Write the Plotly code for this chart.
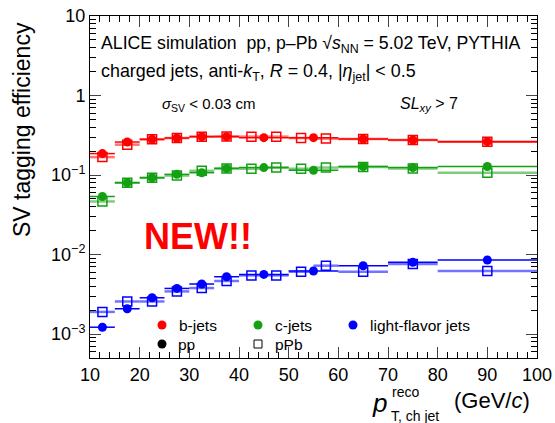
import plotly.graph_objects as go
import math

# ---------------- data ----------------
pp_x = [12.5, 17.5, 22.5, 27.5, 32.5, 37.5, 45, 55, 65, 75, 90]
pp_xerr = [2.5, 2.5, 2.5, 2.5, 2.5, 2.5, 5, 5, 5, 5, 10]
pPb_x = [12.5, 17.5, 22.5, 27.5, 32.5, 37.5, 42.5, 47.5, 52.5, 57.5, 65, 75, 90]
pPb_xerr = [2.5, 2.5, 2.5, 2.5, 2.5, 2.5, 2.5, 2.5, 2.5, 2.5, 5, 5, 10]

b_pp = [0.186, 0.26, 0.281, 0.292, 0.304, 0.304, 0.295, 0.295, 0.284, 0.276, 0.263]
b_pPb = [0.168, 0.241, 0.281, 0.292, 0.304, 0.306, 0.304, 0.304, 0.292, 0.287, 0.284, 0.276, 0.263]
c_pp = [0.0537, 0.080, 0.0925, 0.102, 0.107, 0.121, 0.124, 0.115, 0.128, 0.124, 0.128]
c_pPb = [0.0465, 0.080, 0.0925, 0.0985, 0.113, 0.121, 0.120, 0.124, 0.120, 0.124, 0.126, 0.121, 0.107]
l_pp = [0.00122, 0.00208, 0.00286, 0.00375, 0.00426, 0.00526, 0.00563, 0.00621, 0.00724, 0.00798, 0.00855]
l_pPb = [0.0019, 0.00257, 0.00257, 0.00344, 0.00379, 0.00465, 0.00547, 0.00547, 0.00608, 0.00724, 0.00608, 0.0076, 0.00621]

y_tickvals = [0.001, 0.01, 0.1, 1, 10]
y_ticktext = ["10<sup>\u22123</sup>", "10<sup>\u22122</sup>", "10<sup>\u22121</sup>", "1", "10"]
y_minor = [m * 10.0 ** e for e in range(-4, 1) for m in range(2, 10)]
x_tickvals = [10, 20, 30, 40, 50, 60, 70, 80, 90, 100]

colors = {"b": "#ff0000", "c": "#13a013", "l": "#0000ff"}
light = {"b": "rgba(255,0,0,0.55)", "c": "rgba(19,160,19,0.55)", "l": "rgba(0,0,255,0.55)"}

FONT = "Liberation Sans, Arial, Helvetica, sans-serif"

fig = go.Figure()

series = [("b", b_pp, b_pPb), ("c", c_pp, c_pPb), ("l", l_pp, l_pPb)]
for key, ypp, ypb in series:
    fig.add_trace(go.Scatter(
        x=pPb_x, y=ypb, mode="markers",
        marker=dict(symbol="square-open", size=9, color=colors[key], line=dict(width=1.5, color=colors[key])),
        error_x=dict(type="data", array=pPb_xerr, color=light[key], thickness=2.5, width=0),
        showlegend=False, hoverinfo="x+y"))
for key, ypp, ypb in series:
    fig.add_trace(go.Scatter(
        x=pp_x, y=ypp, mode="markers",
        marker=dict(symbol="circle", size=9, color=colors[key]),
        error_x=dict(type="data", array=pp_xerr, color=colors[key], thickness=1.5, width=0),
        showlegend=False, hoverinfo="x+y"))

# plot area in pixels: x 90..537, y 16..358
L, R, T, B = 90, 537, 16, 358
W, H = R - L, B - T

def px(x):
    return (x - L) / W

def py(y):
    return (B - y) / H

annotations = []

def txt(x, y, text, size, xanchor="left", color="black", **kw):
    annotations.append(dict(xref="paper", yref="paper", x=px(x), y=py(y), text=text,
                            showarrow=False, xanchor=xanchor, yanchor="middle",
                            font=dict(family=FONT, size=size, color=color), **kw))

txt(99, 45, "ALICE simulation  pp, p\u2013Pb \u221a<i>s</i><sub>NN</sub> = 5.02 TeV, PYTHIA", 17.7)
txt(99, 73, "charged jets, anti-<i>k</i><sub>T</sub>, <i>R</i> = 0.4, |<i>\u03b7</i><sub>jet</sub>| < 0.5", 17.9)
txt(160, 104, "<i>\u03c3</i><sub>SV</sub> < 0.03 cm", 15)
txt(398, 104, "<i>SL<sub>xy</sub></i> > 7", 16)
txt(142, 236, "<b>NEW!!</b>", 36, color="#ff0000")

# legend
txt(177, 325, "b-jets", 15.5)
txt(273, 325, "c-jets", 15.5)
txt(368, 325, "light-flavor jets", 15.5)
txt(176, 344, "pp", 15.5)
txt(273, 344, "pPb", 15.5)

shapes = []
def circ(x, y, color, r=4.5):
    shapes.append(dict(type="circle", xref="paper", yref="paper", xsizemode="pixel", ysizemode="pixel",
                       xanchor=px(x), yanchor=py(y), x0=-r, x1=r, y0=-r, y1=r,
                       fillcolor=color, line=dict(width=0)))
circ(162, 325, colors["b"])
circ(258, 325, colors["c"])
circ(353, 325, colors["l"])
circ(162, 344, "black")
shapes.append(dict(type="rect", xref="paper", yref="paper", xsizemode="pixel", ysizemode="pixel",
                   xanchor=px(258), yanchor=py(344), x0=-4, x1=4, y0=-4, y1=4,
                   fillcolor="rgba(0,0,0,0)", line=dict(width=1, color="black")))

# axis titles
annotations.append(dict(xref="paper", yref="paper", x=px(22), y=py(130), text="SV tagging efficiency",
                        showarrow=False, textangle=-90, xanchor="center", yanchor="middle",
                        font=dict(family=FONT, size=23, color="black")))
txt(370, 403, "<i>p</i>", 26)
txt(390, 392, "reco", 14)
txt(389, 416, "T, ch jet", 14)
txt(452, 400, "(GeV/<i>c</i>)", 22)

fig.update_layout(
    width=555, height=423,
    margin=dict(l=L, r=555 - R, t=T, b=423 - B, autoexpand=False),
    paper_bgcolor="white", plot_bgcolor="white",
    font=dict(family=FONT, size=18, color="black"),
    annotations=annotations, shapes=shapes,
    xaxis=dict(range=[10, 100], tickvals=x_tickvals, ticks="inside", ticklen=11, tickwidth=1,
               mirror="allticks", showline=True, linecolor="black", linewidth=1, showgrid=False,
               zeroline=False, tickfont=dict(size=18), automargin=False,
               minor=dict(ticks="inside", ticklen=6, dtick=2, showgrid=False, tickcolor="black")),
    yaxis=dict(type="log", range=[math.log10(5e-4), 1], tickvals=y_tickvals, ticktext=y_ticktext,
               ticks="inside", ticklen=11, tickwidth=1, mirror="allticks", showline=True,
               linecolor="black", linewidth=1, showgrid=False, zeroline=False, tickfont=dict(size=18),
               automargin=False,
               minor=dict(ticks="inside", ticklen=6, tickvals=y_minor, showgrid=False, tickcolor="black")),
)

fig.write_html("out.html")
